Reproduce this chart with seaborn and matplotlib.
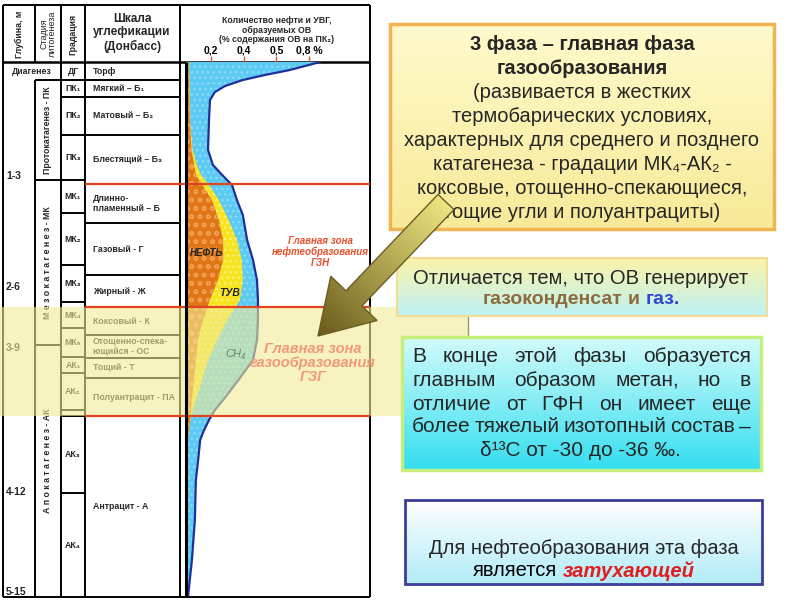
"""
Фаза газообразования: колонка литогенеза + кривые генерации нефти/УВГ
"""

import numpy as np
import matplotlib.pyplot as plt
import seaborn as sns
from matplotlib.patches import Rectangle, FancyArrow
from matplotlib.colors import to_rgb

sns.set_theme(style="white")
plt.rcParams['font.family'] = ['Liberation Sans', 'DejaVu Sans']

# ========== Data ==========
DEPTH_LABELS = ['1-3', '2-6', '3-9', '4-12', '5-15']
DEPTH_MARKS = [176, 287, 348, 492, 592]

STAGES = ['Протокатагенез - ПК', 'М е з о к а т а г е н е з - МК',
          'А п о к а т а г е н е з - АК']
STAGE_BOUNDS = [80, 180, 345, 597]

GRADES = ['ДГ', 'ПК₁', 'ПК₂', 'ПК₃', 'МК₁', 'МК₂', 'МК₃', 'МК₄', 'МК₅',
          'АК₁', 'АК₂', '', 'АК₃', 'АК₄']
GRADE_BOUNDS = [62, 80, 97, 135, 180, 213, 265, 302, 328, 357, 373, 410, 416, 493, 597]

COALS = ['Торф', 'Мягкий – Б₁', 'Матовый – Б₂', 'Блестящий – Б₃',
         'Длинно-\nпламенный – Б', 'Газовый - Г', 'Жирный - Ж', 'Коксовый - К',
         'Отощенно-спека-\nющийся - ОС', 'Тощий - Т', 'Полуантрацит - ПА', 'Антрацит - А']
COAL_BOUNDS = [62, 80, 97, 135, 184, 223, 275, 307, 335, 358, 378, 416, 597]
RED_LEVELS = [184, 307, 416]

TICK_POS = [0.75, 1.75, 2.75, 3.75]
TICK_LABELS = ['0,2', '0,4', '0,5', '0,8 %']

# outer curve (УВГ / CH4)
GAS_DEPTH = [62, 66, 70, 75, 80, 86, 92, 100, 120, 150, 165, 175, 185, 200, 215, 240,
             260, 280, 300, 320, 340, 360, 378, 395, 410, 420, 430, 440, 460, 480,
             520, 560, 597]
GAS_X = [4.08, 3.62, 3.16, 2.40, 1.73, 1.19, 0.88, 0.73, 0.70, 0.67, 0.82, 1.10, 1.40,
         1.55, 1.73, 1.86, 2.04, 2.16, 2.19, 2.19, 2.16, 2.04, 1.64, 1.25, 0.88, 0.70,
         0.55, 0.43, 0.37, 0.30, 0.27, 0.18, 0.06]
# ТУВ
TUV_DEPTH = [62, 120, 150, 165, 175, 185, 200, 220, 240, 260, 280, 300, 320, 340,
             360, 380, 400, 415, 430, 445]
TUV_X = [0.09, 0.12, 0.20, 0.33, 0.46, 0.70, 1.00, 1.30, 1.55, 1.70, 1.73, 1.64, 1.25,
         0.95, 0.67, 0.49, 0.30, 0.16, 0.08, 0.03]
# нефть
OIL_DEPTH = [62, 120, 150, 175, 185, 200, 220, 240, 260, 280, 300, 320, 340, 370,
             400, 420, 440]
OIL_X = [0.08, 0.11, 0.17, 0.30, 0.50, 0.79, 1.00, 1.13, 1.13, 0.97, 0.73, 0.52, 0.37,
         0.27, 0.18, 0.12, 0.05]

# ========== Helpers ==========
fig = plt.figure(figsize=(8, 6), dpi=100)
ax = fig.add_axes([0, 0, 1, 1])
ax.set_xlim(0, 800)
ax.set_ylim(600, 0)
ax.axis('off')


def hline(a, y, x0, x1, color='black', lw=1.4, z=3):
    a.plot([x0, x1], [y, y], color=color, lw=lw, solid_capstyle='butt', zorder=z)


def vline(a, x, y0, y1, color='black', lw=1.4, z=3):
    a.plot([x, x], [y0, y1], color=color, lw=lw, solid_capstyle='butt', zorder=z)


def grad_box(a, x0, y0, x1, y1, c_top, c_bot, edge, lw, z=2):
    t = np.linspace(0, 1, 64)[:, None, None]
    img = (1 - t) * np.array(to_rgb(c_top)) + t * np.array(to_rgb(c_bot))
    a.imshow(img, extent=(x0, x1, y1, y0), aspect='auto', zorder=z,
             interpolation='bilinear')
    a.add_patch(Rectangle((x0, y0), x1 - x0, y1 - y0, fill=False,
                          edgecolor=edge, lw=lw, zorder=z + 0.1))


def parts_line(a, xc, y, parts, size, gap=0.28):
    r = fig.canvas.get_renderer()
    texts, widths = [], []
    for s, kw in parts:
        t = a.text(0, y, s, ha='left', va='center', fontsize=size, zorder=6, **kw)
        texts.append(t)
        widths.append(t.get_window_extent(r).width)
    sp = size * 100 / 72 * gap
    total = sum(widths) + sp * (len(texts) - 1)
    x = xc - total / 2
    for t, w in zip(texts, widths):
        t.set_x(x)
        x += w + sp


def justify_line(a, line, x0, x1, y, size):
    r = fig.canvas.get_renderer()
    words = line.split()
    texts = [a.text(0, y, w, ha='left', va='center', fontsize=size, zorder=6) for w in words]
    widths = [t.get_window_extent(r).width for t in texts]
    gap = (x1 - x0 - sum(widths)) / (len(words) - 1)
    x = x0
    for t, w in zip(texts, widths):
        t.set_x(x)
        x += w + gap


# ========== Table ==========
for x in [3, 61, 85, 180, 370]:
    vline(ax, x, 5, 597)
vline(ax, 35, 5, 62)
vline(ax, 35, 80, 597)
hline(ax, 5, 3, 370)
hline(ax, 62, 3, 370, lw=1.8)
hline(ax, 597, 3, 370)
hline(ax, 80, 35, 180)
for y in STAGE_BOUNDS[1:-1]:
    hline(ax, y, 35, 61)
for y in GRADE_BOUNDS[2:-1]:
    hline(ax, y, 61, 85)
for y in COAL_BOUNDS[1:-1]:
    if y not in RED_LEVELS:
        hline(ax, y, 85, 180)

# header
hdr = dict(fontsize=6.3, fontweight='bold', ha='center', va='center')
ax.text(19, 34, 'Глубина, м', rotation=90, **hdr)
ax.text(48, 34, 'Стадия\nлитогенеза', rotation=90, linespacing=0.95,
        fontsize=6.5, ha='center', va='center')
ax.text(73, 34, 'Градация', rotation=90, **hdr)
ax.text(132, 33, 'Шкала\nуглефикации\n(Донбасс)', fontsize=8.5, fontweight='bold',
        ha='center', va='center', linespacing=1.15)
ax.text(277, 30, 'Количество нефти и УВГ,\nобразуемых ОВ\n(% содержания ОВ на ПК₂)',
        fontsize=6.3, fontweight='bold', ha='center', va='center', linespacing=1.05)

ax.text(32, 71, 'Диагенез', fontsize=6.3, fontweight='bold', ha='center', va='center')
for lab, y in zip(DEPTH_LABELS, DEPTH_MARKS):
    ax.text(6, y, lab, fontsize=7.5, fontweight='bold', ha='left', va='center')
for i, (lab, y0, y1) in enumerate(zip(STAGES, STAGE_BOUNDS[:-1], STAGE_BOUNDS[1:])):
    # last stage label sits a bit above its cell centre
    yc = (y0 + y1) / 2 - (10 if i == 2 else 0)
    ax.text(48, yc, lab, rotation=90, fontsize=6.3, fontweight='bold',
            ha='center', va='center')
for lab, y0, y1 in zip(GRADES, GRADE_BOUNDS[:-1], GRADE_BOUNDS[1:]):
    ax.text(73, (y0 + y1) / 2, lab, fontsize=6.3, fontweight='bold',
            ha='center', va='center')
for lab, y0, y1 in zip(COALS, COAL_BOUNDS[:-1], COAL_BOUNDS[1:]):
    ax.text(93, (y0 + y1) / 2, lab, fontsize=6.3, fontweight='bold',
            ha='left', va='center', linespacing=1.1)

# ========== Curves ==========
cax = fig.add_axes([186 / 800, 3 / 600, 184 / 800, 535 / 600])
cax.fill_betweenx(GAS_DEPTH, 0, GAS_X, facecolor='#5ccaf2', edgecolor='#8fdcf6',
                  hatch='...', lw=0)
cax.fill_betweenx(TUV_DEPTH, 0, TUV_X, facecolor='#f7e41e', edgecolor='#fbef80',
                  hatch='...', lw=0)
cax.fill_betweenx(OIL_DEPTH, 0, OIL_X, facecolor='#e07618', edgecolor='#f0a050',
                  hatch='oo', lw=0)
sns.lineplot(x=GAS_X, y=GAS_DEPTH, sort=False, estimator=None, color='#1e2f9a',
             lw=1.6, ax=cax)
cax.set_xlim(0, 5.6)
cax.set_ylim(597, 62)
cax.patch.set_alpha(0)
for s in cax.spines.values():
    s.set_visible(False)
cax.set_xlabel('')
cax.set_ylabel('')
cax.set_yticks([])
cax.set_xticks(TICK_POS)
cax.set_xticklabels(TICK_LABELS, fontsize=7.5, fontweight='bold')
cax.tick_params(axis='x', top=True, labeltop=True, bottom=False, labelbottom=False,
                color='#d85a30', length=4, width=1, pad=0.5, labelcolor='black')

# ========== Overlay ==========
top = fig.add_axes([0, 0, 1, 1], label='overlay')
top.set_xlim(0, 800)
top.set_ylim(600, 0)
top.axis('off')

vline(top, 186, 62, 597, lw=2.2)

top.text(207, 253, 'НЕФТЬ', fontsize=7, fontweight='bold', style='italic',
         ha='center', va='center')
top.text(230, 293, 'ТУВ', fontsize=7.5, fontweight='bold', style='italic',
         ha='center', va='center')
top.text(236, 354, 'CH₄', fontsize=8, style='italic', color='#5f8a6a',
         ha='center', va='center')
top.text(320, 252, 'Главная зона\nнефтеобразования\nГЗН', fontsize=7, fontweight='bold',
         style='italic', color='#e8502c', ha='center', va='center', linespacing=1.1)

# ГЗГ band
top.add_patch(Rectangle((0, 307), 468, 109, facecolor='#f3ec98', alpha=0.6,
                        edgecolor='none', zorder=1))
vline(top, 468, 307, 416, color='#a09a60', lw=1, z=1.2)
top.text(313, 363, 'Главная зона\nгазообразования\nГЗГ', fontsize=10.5, fontweight='bold',
         style='italic', color='#f29a78', ha='center', va='center', linespacing=1.0,
         zorder=1.5)
for y in RED_LEVELS:
    hline(top, y, 85, 370, color='#e0441e', lw=1.6, z=1.6)

# right boxes
grad_box(top, 390, 24, 774, 229, '#fffacc', '#f8ea98', '#f2b452', 2.5)
grad_box(top, 397, 258, 767, 316, '#fbf4a8', '#bff2f6', '#f2dc96', 1.5)
grad_box(top, 402, 337, 761, 470, '#d2fbfb', '#34deef', '#c6ee7c', 2.5)
grad_box(top, 405, 500, 762, 584, '#ffffff', '#b2ecf8', '#3c3c9c', 2)

B1_TITLE = ['3 фаза – главная фаза', 'газообразования']
B1_LINES = ['(развивается в жестких', 'термобарических условиях,',
            'характерных для среднего и позднего', 'катагенеза - градации МК₄-АК₂ -',
            'коксовые, отощенно-спекающиеся,', 'тощие угли и полуантрациты)']
b1_y = [44, 68, 92, 116, 141, 165, 189, 213]
for txt, y in zip(B1_TITLE + B1_LINES, b1_y):
    top.text(582, y, txt, fontsize=14.5, ha='center', va='center', zorder=6,
             fontweight='bold' if txt in B1_TITLE else 'normal')

top.text(581, 278, 'Отличается тем, что ОВ генерирует', fontsize=14.5,
         ha='center', va='center', zorder=6)
parts_line(top, 581, 300, [('газоконденсат', dict(color='#8c6a3c', fontweight='bold')),
                           ('и', dict(color='#8c6a3c', fontweight='bold')),
                           ('газ.', dict(color='#3048d0', fontweight='bold'))], 14)

B3_LINES = ['В конце этой фазы образуется', 'главным образом метан, но в',
            'отличие от ГФН он имеет еще', 'более тяжелый изотопный состав –']
for txt, y in zip(B3_LINES, [357, 380, 404, 427]):
    justify_line(top, txt, 412, 751, y, 15)
top.text(580, 451, 'δ¹³C от -30 до -36 ‰.', fontsize=15, ha='center', va='center', zorder=6)

top.text(584, 548, 'Для нефтеобразования эта фаза', fontsize=14.5,
         ha='center', va='center', zorder=6)
parts_line(top, 584, 571, [('является', dict(color='black')),
                           ('затухающей', dict(color='#e01e1e', fontweight='bold',
                                               style='italic'))], 14.5)

# arrow with gradient
arrow = FancyArrow(446, 202, -128, 134, width=22, head_width=64, head_length=52,
                   length_includes_head=True, facecolor='none', edgecolor='#6b5d22',
                   lw=1.0, zorder=7)
top.add_patch(arrow)
gx, gy = np.meshgrid(np.linspace(290, 470, 200), np.linspace(185, 350, 200))
d = np.array([-128, 134]) / np.hypot(128, 134)
proj = (gx - 446) * d[0] + (gy - 202) * d[1]
tt = np.clip(proj / 185, 0, 1)[..., None]
grad = (1 - tt) * np.array(to_rgb('#ece680')) + tt * np.array(to_rgb('#6a5a1c'))
im = top.imshow(grad, extent=(290, 470, 350, 185), aspect='auto', zorder=6.9,
                interpolation='bilinear')
im.set_clip_path(arrow)
top.set_xlim(0, 800)
top.set_ylim(600, 0)

plt.savefig('out.png', dpi=100)
